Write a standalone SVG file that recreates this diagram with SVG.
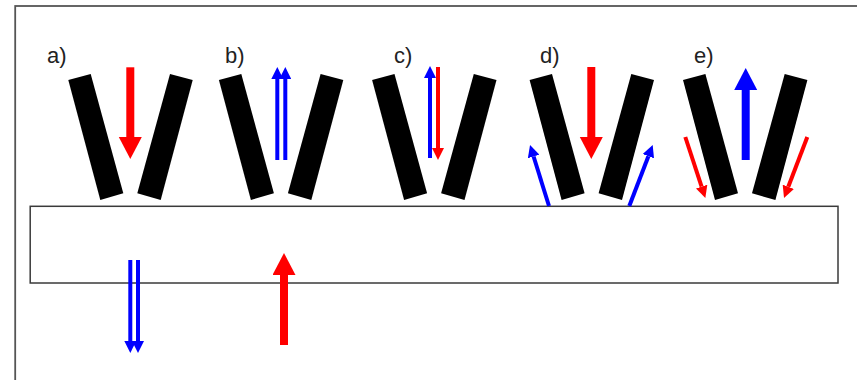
<svg xmlns="http://www.w3.org/2000/svg" width="857" height="380" viewBox="0 0 857 380">
<style>
text{font-family:"Liberation Sans",Arial,sans-serif;font-size:22px;fill:#222}
.bar{fill:#000}
.frame{fill:none;stroke:#555;stroke-width:1.8}
.box{fill:none;stroke:#3a3a3a;stroke-width:1.5}
.rb{stroke:#f00;stroke-width:8;fill:none}
.bb{stroke:#00f;stroke-width:8;fill:none}
.rt{stroke:#f00;stroke-width:4;fill:none}
.bt{stroke:#00f;stroke-width:4;fill:none}
</style>
<defs>
<marker id="hrb" markerUnits="userSpaceOnUse" markerWidth="23" markerHeight="24" refX="0" refY="11.5" orient="auto"><path d="M0 0L22 11.5L0 23Z" fill="#f00"/></marker>
<marker id="hbb" markerUnits="userSpaceOnUse" markerWidth="23" markerHeight="24" refX="0" refY="11.5" orient="auto"><path d="M0 0L22 11.5L0 23Z" fill="#00f"/></marker>
<marker id="hrt" markerUnits="userSpaceOnUse" markerWidth="12" markerHeight="12" refX="0" refY="6" orient="auto"><path d="M0 0L12 6L0 12Z" fill="#f00"/></marker>
<marker id="hbt" markerUnits="userSpaceOnUse" markerWidth="12" markerHeight="12" refX="0" refY="6" orient="auto"><path d="M0 0L12 6L0 12Z" fill="#00f"/></marker>
<g id="bars">
<polygon class="bar" points="68.3,80 90.7,74 123.3,193.3 100.3,200"/>
<polygon class="bar" points="170,74 192.7,80 160.7,200 137.3,193.3"/>
</g>
</defs>
<rect id="frame" class="frame" x="15.2" y="6" width="860" height="400"/>
<rect id="surface" class="box" x="30.2" y="206.3" width="807.8" height="76.7"/>
<g id="panel-a"><use href="#bars"/><text x="47" y="63">a)</text></g>
<g id="panel-b"><use href="#bars" x="150.6"/><text x="225" y="63">b)</text></g>
<g id="panel-c"><use href="#bars" x="303.8"/><text x="394" y="63">c)</text></g>
<g id="panel-d"><use href="#bars" x="461.3"/><text x="540" y="63">d)</text></g>
<g id="panel-e"><use href="#bars" x="614.7"/><text x="694" y="63">e)</text></g>
<g id="connectors">
<path class="rb" d="M130.3 67.3V137" marker-end="url(#hrb)"/>
<path class="bt" d="M277.3 160V79" marker-end="url(#hbt)"/>
<path class="bt" d="M285.3 160V79" marker-end="url(#hbt)"/>
<path class="bt" d="M430 158V78" marker-end="url(#hbt)"/>
<path class="rt" d="M438 67V148" marker-end="url(#hrt)"/>
<path class="rb" d="M591.3 67V137" marker-end="url(#hrb)"/>
<path class="bt" d="M549 206L533.6 156.5" marker-end="url(#hbt)"/>
<path class="bt" d="M629.3 206L648.4 156.2" marker-end="url(#hbt)"/>
<path class="bb" d="M745.7 160V90" marker-end="url(#hbb)"/>
<path class="rt" d="M685.3 137L701.6 186.6" marker-end="url(#hrt)"/>
<path class="rt" d="M807.3 137L788.3 186.8" marker-end="url(#hrt)"/>
<path class="bt" d="M130.3 260V341" marker-end="url(#hbt)"/>
<path class="bt" d="M138 260V341" marker-end="url(#hbt)"/>
<path class="rb" d="M284 345V275" marker-end="url(#hrb)"/>
</g>
</svg>
